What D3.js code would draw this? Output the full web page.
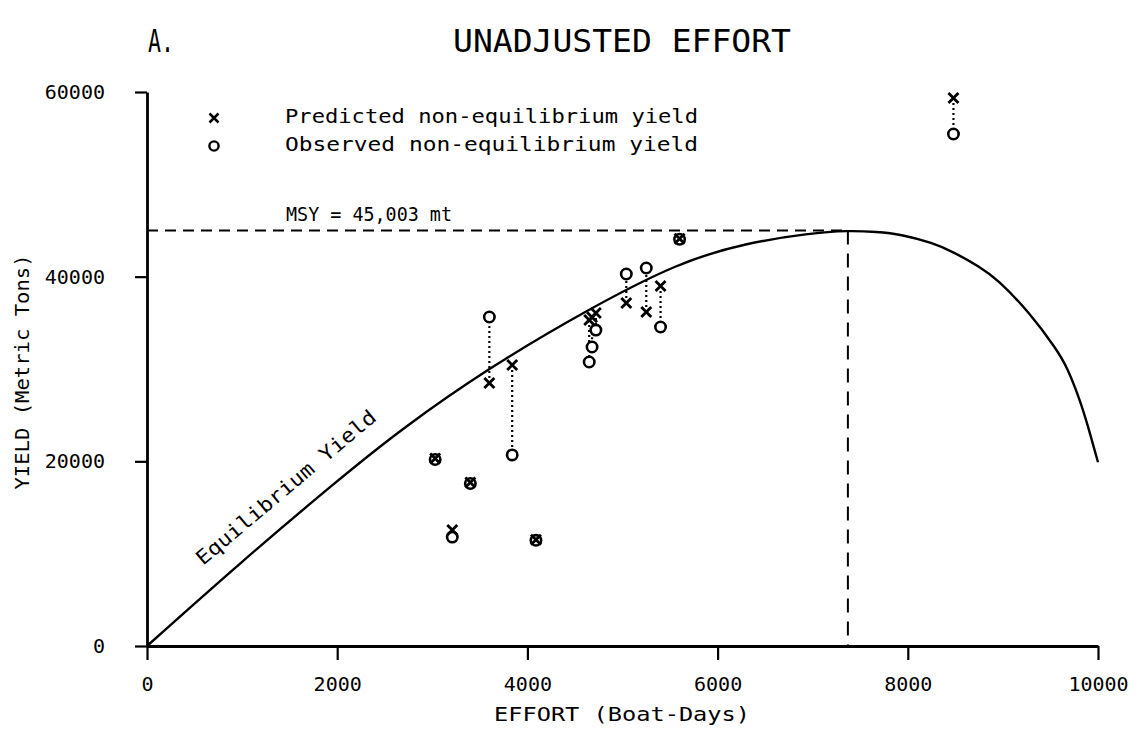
<!DOCTYPE html>
<html>
<head>
<meta charset="utf-8">
<script src="https://cdn.jsdelivr.net/npm/d3@7"></script>
<style>
  html, body { margin: 0; padding: 0; background: #fff; }
  svg { display: block; }
  text { font-family: "DejaVu Sans Mono", "Liberation Mono", monospace; fill: #000; }
</style>
</head>
<body>
<svg id="chart" width="1140" height="729"></svg>
<script>
// ---- data ----
const xTicks = [0, 2000, 4000, 6000, 8000, 10000];
const yTicks = [0, 20000, 40000, 60000];

// equilibrium yield curve: effort (boat-days) and yield (metric tons)
const curveEffort = [0, 1000, 2000, 2660, 3605, 4625, 5600, 6300, 6970, 7370, 7680, 7920, 8265, 8475, 8760, 8940, 9285, 9570, 9675, 9810, 9885, 10000];
const curveYield  = [0, 9200, 17900, 23400, 30200, 36400, 41600, 43650, 44700, 45003, 44850, 44600, 43650, 42700, 41050, 39750, 36050, 32050, 30200, 26650, 24150, 19900];

// non-equilibrium points: effort, predicted (x), observed (o)
const pointEffort    = [3030, 3210, 3400, 3600, 3840, 4090, 4650, 4680, 4720, 5040, 5250, 5400, 5600, 8480];
const predictedYield = [20300, 12560, 17700, 28480, 30430, 11500, 35300, 35600, 36060, 37150, 36170, 38990, 44100, 59350];
const observedYield  = [20200, 11800, 17600, 35630, 20690, 11450, 30760, 32380, 34220, 40290, 40940, 34550, 44050, 55450];

const msy = 45003;
const effortMsy = 7370;

// ---- drawing ----
const svg = d3.select("#chart");
const x = d3.scaleLinear().domain([0, 10000]).range([147, 1098]);
const y = d3.scaleLinear().domain([0, 60000]).range([646, 92]);

// titles
svg.append("text").attr("x", 148).attr("y", 52).attr("font-size", 32)
  .attr("textLength", 26).attr("lengthAdjust", "spacingAndGlyphs").text("A.");
svg.append("text").attr("x", 453).attr("y", 52).attr("font-size", 32)
  .attr("textLength", 338).attr("lengthAdjust", "spacingAndGlyphs").text("UNADJUSTED EFFORT");

// axes
const xAxis = d3.axisBottom(x).tickValues(xTicks).tickSize(14).tickSizeOuter(0).tickPadding(17)
  .tickFormat(d3.format("d"));
const gx = svg.append("g").attr("transform", `translate(0,${y(0)})`).call(xAxis);
gx.selectAll("text").attr("font-size", 20).style("font-family", '"DejaVu Sans Mono", monospace');

const yAxis = d3.axisLeft(y).tickValues(yTicks).tickSize(12).tickSizeOuter(0).tickPadding(30)
  .tickFormat(d3.format("d"));
const gy = svg.append("g").attr("transform", `translate(${x(0)},0)`).call(yAxis);
gy.selectAll("text").attr("font-size", 20).style("font-family", '"DejaVu Sans Mono", monospace');

[gx, gy].forEach(g => {
  g.select(".domain").attr("stroke", "#000").attr("stroke-width", 2.8);
  g.selectAll(".tick line").attr("stroke", "#000").attr("stroke-width", 2.2);
});

// axis titles
svg.append("text").attr("x", 622).attr("y", 721).attr("font-size", 19).attr("text-anchor", "middle")
  .attr("textLength", 256).attr("lengthAdjust", "spacingAndGlyphs").text("EFFORT (Boat-Days)");
svg.append("text").attr("transform", "translate(29,372) rotate(-90)").attr("font-size", 20)
  .attr("text-anchor", "middle").attr("textLength", 235).attr("lengthAdjust", "spacingAndGlyphs")
  .text("YIELD (Metric Tons)");

// MSY reference lines
svg.append("line").attr("x1", x(0)).attr("x2", x(effortMsy)).attr("y1", y(msy)).attr("y2", y(msy))
  .attr("stroke", "#000").attr("stroke-width", 2).attr("stroke-dasharray", "11,7");
svg.append("line").attr("x1", x(effortMsy)).attr("x2", x(effortMsy)).attr("y1", y(msy)).attr("y2", y(0))
  .attr("stroke", "#000").attr("stroke-width", 2).attr("stroke-dasharray", "14,9");
svg.append("text").attr("x", 286).attr("y", 221).attr("font-size", 20)
  .attr("textLength", 166).attr("lengthAdjust", "spacingAndGlyphs").text("MSY = 45,003 mt");

// equilibrium curve
const curveData = curveEffort.map((e, i) => [e, curveYield[i]]);
svg.append("path").datum(curveData)
  .attr("d", d3.line().x(d => x(d[0])).y(d => y(d[1])).curve(d3.curveBasis))
  .attr("fill", "none").attr("stroke", "#000").attr("stroke-width", 2.4);
svg.append("text").attr("transform", "translate(203,566) rotate(-40)").attr("font-size", 20)
  .attr("textLength", 228).attr("lengthAdjust", "spacingAndGlyphs").text("Equilibrium Yield");

// markers
const crossPath = (cx, cy, s) => `M${cx - s},${cy - s}L${cx + s},${cy + s}M${cx + s},${cy - s}L${cx - s},${cy + s}`;
const pts = pointEffort.map((e, i) => ({ e, p: predictedYield[i], o: observedYield[i] }));
const gp = svg.append("g");
gp.selectAll("line.conn").data(pts).join("line").attr("class", "conn")
  .attr("x1", d => x(d.e)).attr("x2", d => x(d.e))
  .attr("y1", d => y(d.p)).attr("y2", d => y(d.o))
  .attr("stroke", "#000").attr("stroke-width", 2.2).attr("stroke-dasharray", "2,3");
gp.selectAll("circle.obs").data(pts).join("circle").attr("class", "obs")
  .attr("cx", d => x(d.e)).attr("cy", d => y(d.o)).attr("r", 5.2)
  .attr("fill", "#fff").attr("stroke", "#000").attr("stroke-width", 2.6);
gp.selectAll("path.pred").data(pts).join("path").attr("class", "pred")
  .attr("d", d => crossPath(x(d.e), y(d.p), 5))
  .attr("stroke", "#000").attr("stroke-width", 2.8).attr("fill", "none");

// legend
svg.append("path").attr("d", crossPath(214, 118, 4.5)).attr("stroke", "#000").attr("stroke-width", 2.5);
svg.append("circle").attr("cx", 214).attr("cy", 146).attr("r", 4.6)
  .attr("fill", "#fff").attr("stroke", "#000").attr("stroke-width", 2.4);
svg.append("text").attr("x", 285).attr("y", 123).attr("font-size", 20)
  .attr("textLength", 413).attr("lengthAdjust", "spacingAndGlyphs").text("Predicted non-equilibrium yield");
svg.append("text").attr("x", 285).attr("y", 151).attr("font-size", 20)
  .attr("textLength", 413).attr("lengthAdjust", "spacingAndGlyphs").text("Observed  non-equilibrium yield");
</script>
</body>
</html>
